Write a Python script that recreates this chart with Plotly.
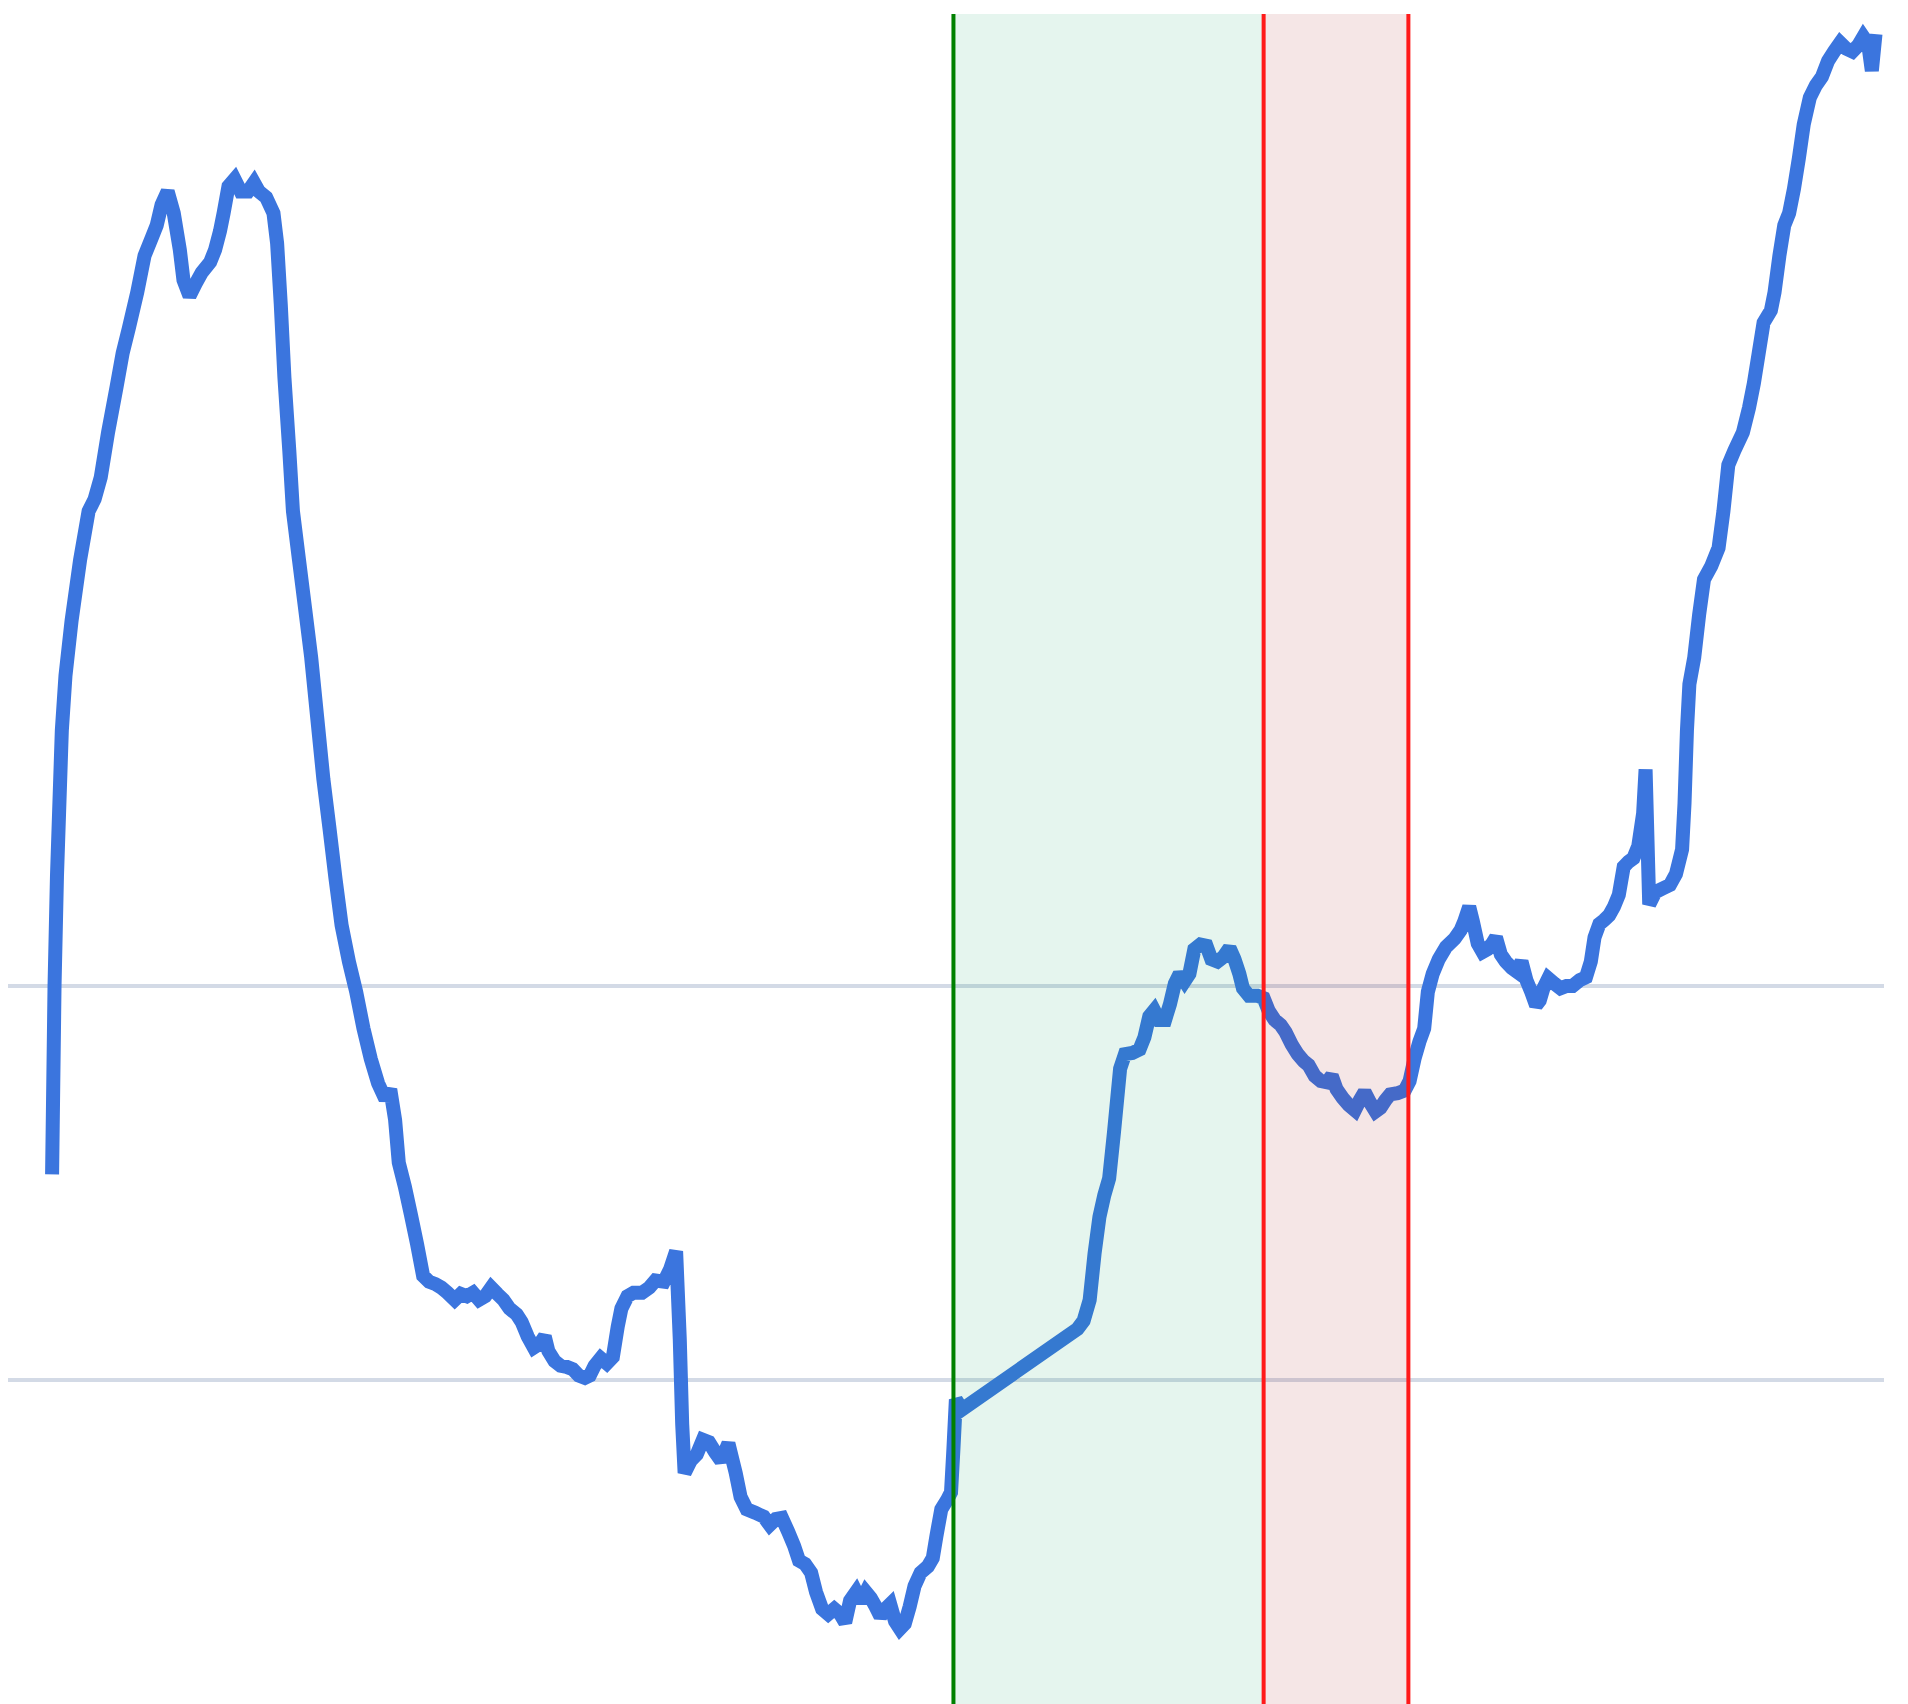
import plotly.graph_objects as go

# time steps and series values
t = [42, 44, 46, 50, 53, 58, 65, 72, 77, 82, 88, 95, 100, 105, 112, 118, 124, 128, 132, 137,
     142, 147, 150, 155, 160, 165, 172, 176, 180, 183, 187, 192, 197, 203, 208, 212, 218, 224, 227, 230,
     233, 237, 240, 245, 250, 255, 260, 265, 270, 275, 280, 286, 292, 298, 304, 310, 316, 320, 324, 327,
     332, 337, 342, 347, 352, 357, 362, 367, 373, 378, 383, 388, 393, 398, 403, 408, 413, 418, 424, 428,
     433, 438, 443, 447, 450, 455, 460, 465, 470, 475, 480, 484, 488, 493, 498, 503, 507, 510, 515, 520,
     527, 533, 538, 545, 550, 555, 558, 560, 562, 567, 572, 577, 582, 587, 592, 598, 604, 608, 613, 620,
     627, 632, 637, 642, 647, 652, 656, 661, 666, 670, 675, 680, 685, 690, 694, 698, 703, 707, 711, 715,
     719, 723, 727, 731, 735, 739, 743, 747, 751, 756, 762, 766, 769, 773, 778, 781, 783, 785, 790, 885,
     890, 895, 899, 903, 907, 911, 915, 920, 924, 930, 936, 940, 944, 948, 952, 957, 961, 965, 969, 973,
     977, 981, 986, 991, 995, 1000, 1005, 1010, 1014, 1018, 1021, 1026, 1033, 1038, 1042, 1047, 1052, 1056, 1061, 1066,
     1071, 1075, 1080, 1085, 1090, 1094, 1098, 1103, 1108, 1113, 1117, 1121, 1125, 1130, 1134, 1138, 1142, 1148, 1154, 1158,
     1162, 1166, 1170, 1173, 1177, 1182, 1188, 1195, 1200, 1203, 1207, 1210, 1214, 1218, 1222, 1226, 1229, 1233, 1237, 1242,
     1246, 1250, 1254, 1258, 1262, 1265, 1268, 1272, 1277, 1282, 1287, 1292, 1298, 1303, 1307, 1310, 1314, 1318, 1322, 1326,
     1330, 1334, 1338, 1342, 1346, 1350, 1352, 1355, 1360, 1366, 1372, 1377, 1382, 1384, 1386, 1388, 1392, 1396, 1400, 1406,
     1412, 1416, 1420, 1425, 1432, 1437, 1441, 1445, 1449, 1455, 1458, 1462, 1466, 1470, 1474, 1478, 1482, 1487, 1492, 1497,
     1502, 1507, 1512, 1517, 1522, 1527, 1531, 1535, 1538, 1540, 1541]

values = [152.2, 200.0, 227.8, 264.8, 278.7, 292.6, 308.0, 320.4, 323.5, 329.0, 340.4, 351.9, 360.5, 366.7, 375.9, 385.2, 389.8, 392.9, 398.1, 401.5,
          396.0, 386.7, 379.0, 375.0, 378.1, 380.9, 383.6, 386.7, 391.4, 396.0, 402.8, 404.6, 401.5, 401.5, 403.7, 401.5, 400.0, 396.0, 388.3, 372.8,
          354.3, 335.8, 320.4, 308.0, 295.7, 283.3, 267.9, 252.5, 240.1, 227.2, 215.4, 206.2, 198.5, 189.2, 181.5, 175.3, 171.3, 173.8, 166.0, 155.2,
          149.1, 142.0, 134.6, 126.5, 125.0, 124.4, 123.5, 122.2, 120.4, 121.9, 121.3, 122.2, 120.4, 121.3, 123.5, 121.9, 120.4, 118.2, 116.7, 114.8,
          111.1, 108.3, 109.3, 111.1, 107.4, 104.9, 103.7, 103.4, 102.8, 101.2, 100.6, 101.2, 103.7, 105.6, 104.3, 105.9, 113.6, 118.2, 121.3, 122.2,
          122.2, 123.5, 125.3, 125.0, 128.1, 132.7, 110.5, 88.9, 76.5, 79.6, 81.2, 84.9, 84.3, 81.8, 79.6, 84.0, 76.5, 70.4, 67.3, 66.4,
          65.4, 63.3, 64.8, 65.1, 61.7, 58.0, 54.3, 53.4, 51.2, 46.3, 42.0, 40.7, 42.0, 40.7, 38.6, 44.1, 46.3, 43.8, 46.3, 44.8,
          42.6, 40.1, 42.0, 43.2, 38.9, 37.0, 38.3, 42.6, 47.8, 51.2, 52.8, 54.9, 60.5, 67.3, 69.8, 71.6, 82.7, 95.1, 92.6, 113.0,
          115.1, 120.4, 132.1, 141.4, 146.9, 151.2, 163.0, 179.0, 182.7, 183.0, 183.9, 187.0, 192.3, 193.8, 191.4, 191.4, 195.4, 200.6, 203.1, 201.2,
          203.1, 209.3, 210.5, 210.2, 206.8, 206.2, 207.4, 209.6, 206.8, 203.1, 199.4, 197.5, 197.5, 196.9, 193.8, 191.4, 190.1, 188.3, 185.2, 182.7,
          180.9, 179.9, 177.2, 175.9, 175.6, 177.2, 173.8, 171.6, 169.8, 168.5, 171.0, 173.1, 170.7, 168.2, 169.1, 171.0, 172.5, 172.8, 173.5, 175.9,
          181.5, 185.8, 189.2, 198.5, 203.1, 206.8, 209.9, 212.0, 214.2, 216.4, 220.1, 216.4, 210.8, 208.6, 209.3, 210.8, 212.3, 208.0, 206.2, 204.6,
          203.7, 206.2, 201.5, 198.5, 195.1, 196.3, 199.4, 201.9, 200.6, 199.4, 200.0, 200.0, 201.5, 202.2, 206.2, 212.3, 215.7, 216.7, 217.9, 220.1,
          223.1, 230.2, 231.5, 232.4, 235.5, 243.8, 254.9, 220.7, 223.8, 224.7, 225.6, 228.4, 234.6, 246.3, 264.8, 276.5, 283.3, 294.1, 303.1, 306.5,
          311.1, 320.4, 332.1, 335.8, 340.4, 346.6, 352.8, 360.5, 368.2, 371.3, 375.9, 385.2, 392.9, 396.0, 402.2, 409.9, 418.5, 425.3, 428.4, 430.6,
          434.6, 437.0, 439.2, 437.7, 437.0, 438.6, 440.7, 438.9, 432.1, 438.3, 441.4]

# entry / exit markers
entry_t = 783
exit_t = [1038, 1157]
grid_vals = [100, 200]

colors = {
    'line': '#3b75de',
    'entry': '#008000',
    'exit': '#ff1a1a',
    'entry_fill': 'rgba(0,155,85,0.1)',
    'exit_fill': 'rgba(160,10,10,0.1)',
    'grid': '#d3dae6',
}

fig = go.Figure(go.Scatter(
    x=t, y=values, mode='lines',
    line=dict(color=colors['line'], width=14, simplify=False),
    hoverinfo='skip'
))

fig.add_vrect(x0=entry_t, x1=exit_t[0], fillcolor=colors['entry_fill'],
              line_width=0, layer='above')
fig.add_vrect(x0=exit_t[0], x1=exit_t[1], fillcolor=colors['exit_fill'],
              line_width=0, layer='above')
fig.add_vline(x=entry_t, line_color=colors['entry'], line_width=4, layer='above')
for x in exit_t:
    fig.add_vline(x=x, line_color=colors['exit'], line_width=4, layer='above')

fig.update_layout(
    width=1900, height=1696,
    margin=dict(l=0, r=24, t=6, b=0),
    plot_bgcolor='white',
    paper_bgcolor='white',
    showlegend=False,
)
fig.update_xaxes(range=[5.75, 1548], showgrid=False, zeroline=False,
                 showticklabels=False, ticks='')
fig.update_yaxes(range=[17.9, 446.5], tickvals=grid_vals, showgrid=True,
                 gridcolor=colors['grid'], gridwidth=4, zeroline=False,
                 showticklabels=False, ticks='')

fig.write_html("out.html")
